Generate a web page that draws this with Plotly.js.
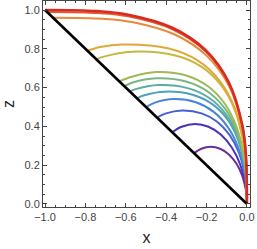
<!DOCTYPE html>
<html><head><meta charset="utf-8">
<script src="https://cdn.plot.ly/plotly-3.0.1.min.js"></script>
<style>html,body{margin:0;padding:0;background:#fff}#plot{width:257px;height:249px}</style>
</head><body><div id="plot"></div>
<script>
// Curves, innermost (purple) to outermost (red): x and z values
const c1x = [-0.262, -0.226, -0.1795, -0.1330, -0.0898, -0.0526, -0.0241, -0.0061, -0.0015, 0];
const c1z = [0.262, 0.285, 0.295, 0.2849, 0.2555, 0.2086, 0.1475, 0.0763, 0.0385, 0];
const c2x = [-0.370, -0.3235, -0.257, -0.1905, -0.1285, -0.0753, -0.0344, -0.0088, -0.0022, 0];
const c2z = [0.370, 0.398, 0.412, 0.398, 0.3568, 0.2913, 0.206, 0.1066, 0.0538, 0];
const c3x = [-0.445, -0.4047, -0.3215, -0.2248, -0.1479, -0.0852, -0.0386, -0.0098, -0.0025, 0];
const c3z = [0.445, 0.4656, 0.482, 0.4673, 0.4242, 0.3543, 0.2603, 0.1449, 0.0789, 0];
const c4x = [-0.500, -0.4554, -0.3618, -0.2530, -0.1664, -0.0959, -0.0434, -0.0110, -0.0028, 0];
const c4z = [0.500, 0.5226, 0.541, 0.5246, 0.4761, 0.3976, 0.2921, 0.1627, 0.0886, 0];
const c5x = [-0.545, -0.5128, -0.4074, -0.2693, -0.1736, -0.0986, -0.0444, -0.0112, -0.0028, 0];
const c5z = [0.545, 0.5593, 0.579, 0.5631, 0.5159, 0.4389, 0.3323, 0.1963, 0.1135, 0];
const c6x = [-0.580, -0.5514, -0.438, -0.2895, -0.1866, -0.1060, -0.0477, -0.0120, -0.0030, 0];
const c6z = [0.580, 0.5921, 0.613, 0.5962, 0.5462, 0.4647, 0.3519, 0.2078, 0.1201, 0];
const c7x = [-0.607, -0.5660, -0.4496, -0.2972, -0.1915, -0.1088, -0.0490, -0.0123, -0.0031, 0];
const c7z = [0.607, 0.6259, 0.648, 0.6302, 0.5774, 0.4912, 0.3720, 0.2197, 0.1270, 0];
const c8x = [-0.632, -0.5665, -0.450, -0.2975, -0.1917, -0.1089, -0.0491, -0.0123, -0.0031, 0];
const c8z = [0.632, 0.6568, 0.680, 0.6614, 0.6059, 0.5154, 0.3903, 0.2305, 0.1333, 0];
const c9x = [-0.745, -0.7131, -0.5665, -0.3546, -0.2243, -0.1263, -0.0563, -0.0142, -0.0036, 0];
const c9z = [0.745, 0.7582, 0.785, 0.7654, 0.7070, 0.6099, 0.4741, 0.2936, 0.1786, 0];
const c10x = [-0.790, -0.7265, -0.619, -0.3875, -0.2451, -0.1380, -0.0615, -0.0155, -0.0039, 0];
const c10z = [0.790, 0.8095, 0.822, 0.8015, 0.7404, 0.6387, 0.4965, 0.3074, 0.1870, 0];
const c11x = [-0.960, -0.7133, -0.5702, -0.3552, -0.1978, -0.0877, -0.0221, -0.0055, 0];
const c11z = [0.960, 0.9545, 0.9379, 0.8723, 0.7622, 0.6048, 0.3898, 0.2467, 0];
const c12x = [-0.990, -0.7356, -0.5881, -0.3663, -0.2039, -0.0905, -0.0228, -0.0056, 0];
const c12z = [0.990, 0.9843, 0.9673, 0.8995, 0.7861, 0.6237, 0.4019, 0.2544, 0];
const c13x = [-1.000, -0.743, -0.594, -0.370, -0.206, -0.0914, -0.023, -0.0057, 0];
const c13z = [1.000, 0.9943, 0.977, 0.9086, 0.794, 0.630, 0.406, 0.257, 0];
const curveColors = ['#6f2b9c','#4b2fbf','#4360d0','#4a86d6','#4fa0c0','#5aaea0','#7ab582','#9cba55','#c6b83c','#e0a83a','#e8883a','#e45a2e','#d92a22'];
const diagX = [-1, 0];
const diagZ = [1, 0];
const xTicks = [-1.0, -0.8, -0.6, -0.4, -0.2, 0.0];
const zTicks = [0.0, 0.2, 0.4, 0.6, 0.8, 1.0];

const xs = [c1x,c2x,c3x,c4x,c5x,c6x,c7x,c8x,c9x,c10x,c11x,c12x,c13x];
const zs = [c1z,c2z,c3z,c4z,c5z,c6z,c7z,c8z,c9z,c10z,c11z,c12z,c13z];
const traces = xs.map((x,i)=>({
  x:x, y:zs[i], type:'scatter', mode:'lines',
  line:{color:curveColors[i], width:(i===12?2.6:2), shape:'spline', smoothing:1},
  hoverinfo:'skip', showlegend:false
}));
traces.push({x:diagX, y:diagZ, type:'scatter', mode:'lines', line:{color:'#000', width:2.6}, showlegend:false});

const axisCommon = {
  showgrid:false, zeroline:false, showline:true, linecolor:'#444', linewidth:1, mirror:'ticks',
  ticks:'inside', ticklen:4, tickcolor:'#444', tickwidth:1,
  minor:{dtick:0.05, ticks:'inside', ticklen:2, tickcolor:'#444', tickwidth:1, showgrid:false},
  tickfont:{family:'Liberation Sans, Arial, sans-serif', size:11, color:'#444'},
  tickformat:'.1f'
};
const layout = {
  width:257, height:249, paper_bgcolor:'#fff', plot_bgcolor:'#fff',
  margin:{l:43, r:7, t:1, b:42},
  xaxis:Object.assign({}, axisCommon, {range:[-1.0099, 0.0149], tickvals:xTicks,
    title:{text:'x', font:{family:'Liberation Sans, Arial, sans-serif', size:16, color:'#222'}, standoff:9}}),
  yaxis:Object.assign({}, axisCommon, {range:[-0.0155, 1.0464], tickvals:zTicks,
    title:{text:'z', font:{family:'Liberation Sans, Arial, sans-serif', size:16, color:'#222'}, standoff:5}}),
  showlegend:false
};
Plotly.newPlot('plot', traces, layout, {displayModeBar:false, staticPlot:true});
</script></body></html>
